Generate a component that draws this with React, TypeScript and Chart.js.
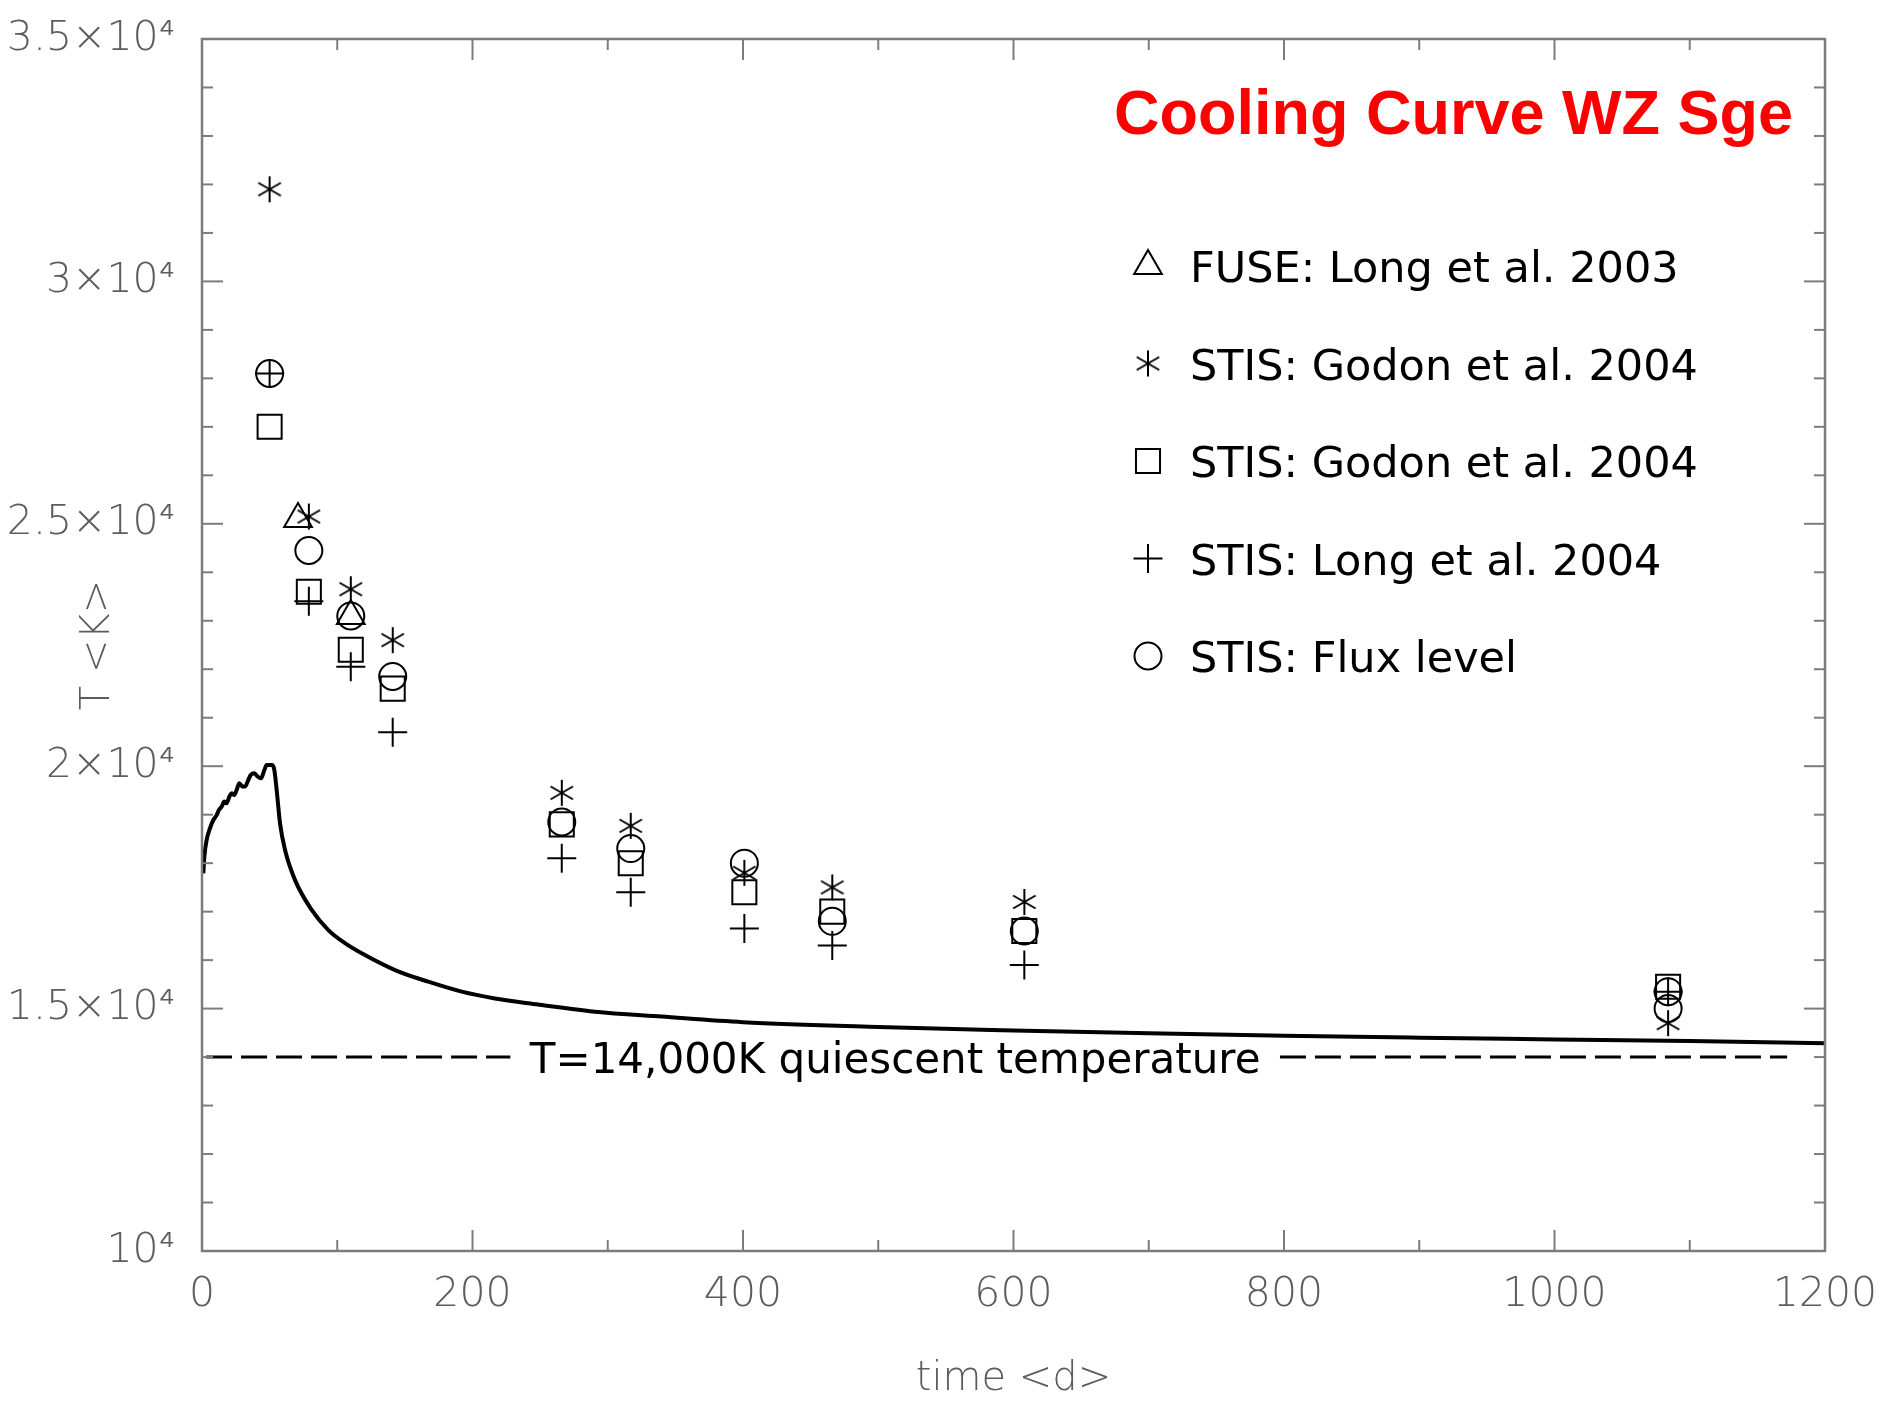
import React, { useEffect, useRef } from 'react';
import { Chart, registerables } from 'chart.js';
import { drawPoint } from 'chart.js/helpers';

Chart.register(...registerables);

// ---------------- data ----------------
const curveDays = [0.99, 1.72, 3.45, 5.9, 8.4, 10.8, 12.6, 14.5, 16.5, 18.2, 20.2, 21.9, 23.9, 25.6, 27.6, 29.8, 31.8, 34.2, 36.0, 38.7, 41.2, 43.6, 46.1, 47.8, 52.0, 53.5, 55.2, 57.7, 61.4, 68.8, 81.1, 93.4, 105.7, 118.1, 142.7, 167.3, 192, 216.6, 241.3, 290.6, 339.9, 400, 500, 600, 700, 800, 900, 1000, 1100, 1200];
const curveTemps = [17790, 18130, 18480, 18720, 18890, 18990, 19100, 19165, 19270, 19235, 19370, 19440, 19405, 19510, 19650, 19580, 19580, 19715, 19820, 19855, 19785, 19750, 19920, 20025, 20025, 19920, 19510, 18820, 18270, 17650, 17035, 16620, 16350, 16140, 15795, 15555, 15350, 15210, 15110, 14935, 14835, 14720, 14620, 14550, 14490, 14440, 14400, 14365, 14330, 14285];

const obsDays = [50, 79, 110, 141, 266, 317, 401, 466, 608, 1084];
const godonStarTemps = [31900, 25150, 23650, 22600, 19450, 18770, 17800, 17500, 17200, 14700];
const godonSquareTemps = [27000, 23600, 22400, 21600, 18800, 18000, 17400, 17000, 16600, 15450];
const longPlusTemps = [28100, 23400, 22050, 20700, 18100, 17400, 16650, 16300, 15900, 15350];
const fluxDays = [50, 79, 110, 141, 266, 317, 401, 466, 608, 1084, 1084];
const fluxCircleTemps = [28100, 24450, 23100, 21850, 18850, 18300, 18000, 16800, 16600, 15350, 15000];
const fuseDays = [71, 110];
const fuseTriangleTemps = [25100, 23100];

const quiescentTemp = 14000;
const quiescentSegments = [[3, 228], [797, 1172]];
const quiescentLabel = 'T=14,000K quiescent temperature';

const chartTitle = 'Cooling Curve WZ Sge';
const legendLabels = [
  'FUSE: Long et al. 2003',
  'STIS: Godon et al. 2004',
  'STIS: Godon et al. 2004',
  'STIS: Long et al. 2004',
  'STIS: Flux level',
];
const xTitle = 'time <d>';
const yTitle = 'T <K>';
const xMin = 0, xMax = 1200, xMajor = 200, xMinor = 100;
const yMin = 10000, yMax = 35000, yMajor = 5000, yMinor = 1000;

// ---------------- helpers ----------------
function makeAsterisk(r: number, lw: number): HTMLCanvasElement {
  const size = Math.ceil(2 * r + 2 * lw);
  const c = document.createElement('canvas');
  c.width = size;
  c.height = size;
  const g = c.getContext('2d')!;
  g.strokeStyle = '#000';
  g.lineWidth = lw;
  const cx = size / 2, cy = size / 2;
  for (const a of [90, 30, -30]) {
    const rad = (a * Math.PI) / 180;
    g.beginPath();
    g.moveTo(cx - r * Math.cos(rad), cy - r * Math.sin(rad));
    g.lineTo(cx + r * Math.cos(rad), cy + r * Math.sin(rad));
    g.stroke();
  }
  return c;
}

const pts = (xs: number[], ys: number[]) => xs.map((x, i) => ({ x, y: ys[i] }));

const TICK_FONT = { family: '"DejaVu Sans", sans-serif', size: 41, weight: 200 as any };
const TITLE_FONT = { family: '"DejaVu Sans", sans-serif', size: 40, weight: 200 as any };
const GRAY = '#5c5c5c';

export default function App() {
  const ref = useRef<HTMLCanvasElement>(null);

  useEffect(() => {
    document.body.style.margin = '0';
    const canvas = ref.current!;
    const asterisk = makeAsterisk(13, 2);

    const markerStyles: any[] = [
      { pointStyle: 'triangle', radius: 16 },
      { pointStyle: asterisk, radius: 13 },
      { pointStyle: 'rect', radius: 17 },
      { pointStyle: 'cross', radius: 14.5 },
      { pointStyle: 'circle', radius: 13.5 },
    ];

    const marker = (label: string, data: any[], idx: number) => ({
      type: 'scatter' as const,
      label,
      data,
      showLine: false,
      pointStyle: markerStyles[idx].pointStyle,
      pointRadius: markerStyles[idx].radius,
      pointHoverRadius: markerStyles[idx].radius,
      pointBorderWidth: 2,
      pointBorderColor: '#000',
      pointBackgroundColor: 'rgba(0,0,0,0)',
      borderColor: '#000',
      backgroundColor: 'rgba(0,0,0,0)',
    });

    const decor = {
      id: 'decor',
      afterDraw(chart: any) {
        const { ctx, chartArea: a, scales } = chart;
        const xs = scales.x, ys = scales.y;
        ctx.save();
        // frame
        ctx.strokeStyle = '#7c7c7c';
        ctx.lineWidth = 2.5;
        ctx.strokeRect(a.left, a.top, a.right - a.left, a.bottom - a.top);
        // ticks (inward, all four sides)
        ctx.lineWidth = 2;
        const seg = (x1: number, y1: number, x2: number, y2: number) => {
          ctx.beginPath();
          ctx.moveTo(x1, y1);
          ctx.lineTo(x2, y2);
          ctx.stroke();
        };
        for (let v = xMin; v <= xMax; v += xMinor) {
          const p = xs.getPixelForValue(v);
          const len = v % xMajor === 0 ? 21 : 11;
          seg(p, a.bottom, p, a.bottom - len);
          seg(p, a.top, p, a.top + len);
        }
        for (let v = yMin; v <= yMax; v += yMinor) {
          const p = ys.getPixelForValue(v);
          const len = v % yMajor === 0 ? 21 : 11;
          seg(a.left, p, a.left + len, p);
          seg(a.right, p, a.right - len, p);
        }
        // title
        ctx.fillStyle = '#ff0000';
        ctx.font = 'bold 63px "Liberation Sans", Arial, sans-serif';
        ctx.textAlign = 'right';
        ctx.textBaseline = 'alphabetic';
        ctx.fillText(chartTitle, a.right - 32, a.top + 95);
        // legend
        ctx.font = '43px "DejaVu Sans", sans-serif';
        ctx.textAlign = 'left';
        ctx.fillStyle = '#000';
        const symX = a.left + 946;
        const textX = a.left + 988;
        for (let i = 0; i < legendLabels.length; i++) {
          const cy = a.top + 227 + i * 97.5;
          ctx.save();
          ctx.strokeStyle = '#000';
          ctx.fillStyle = 'rgba(0,0,0,0)';
          ctx.lineWidth = 2;
          drawPoint(ctx, { pointStyle: markerStyles[i].pointStyle, radius: markerStyles[i].radius, rotation: 0, borderWidth: 2 } as any, symX, cy);
          ctx.restore();
          ctx.fillText(legendLabels[i], textX, cy + 16);
        }
        // quiescent label
        const midDay = (quiescentSegments[0][1] + quiescentSegments[1][0]) / 2;
        ctx.font = '42px "DejaVu Sans", sans-serif';
        ctx.textAlign = 'center';
        ctx.fillText(quiescentLabel, xs.getPixelForValue(midDay), ys.getPixelForValue(quiescentTemp) + 16);
        ctx.restore();
      },
    };

    const chart = new Chart(canvas, {
      type: 'scatter',
      data: {
        datasets: [
          {
            type: 'line' as const,
            label: 'model',
            data: pts(curveDays, curveTemps),
            borderColor: '#000',
            borderWidth: 4,
            pointRadius: 0,
            cubicInterpolationMode: 'monotone',
            fill: false,
          } as any,
          ...quiescentSegments.map((s) => ({
            type: 'line' as const,
            label: 'quiescent',
            data: s.map((d) => ({ x: d, y: quiescentTemp })),
            borderColor: '#000',
            borderWidth: 3,
            borderDash: [26, 9],
            pointRadius: 0,
            fill: false,
          })),
          marker(legendLabels[0], pts(fuseDays, fuseTriangleTemps), 0),
          marker(legendLabels[1], pts(obsDays, godonStarTemps), 1),
          marker(legendLabels[2], pts(obsDays, godonSquareTemps), 2),
          marker(legendLabels[3], pts(obsDays, longPlusTemps), 3),
          marker(legendLabels[4], pts(fluxDays, fluxCircleTemps), 4),
        ],
      },
      options: {
        animation: false,
        responsive: false,
        maintainAspectRatio: false,
        devicePixelRatio: 1,
        events: [],
        layout: { padding: { top: 39, right: 56, left: 0, bottom: 0 } },
        plugins: { legend: { display: false }, tooltip: { enabled: false }, title: { display: false } },
        scales: {
          x: {
            type: 'linear',
            min: xMin,
            max: xMax,
            grid: { display: false, drawTicks: false },
            border: { display: false },
            ticks: { stepSize: xMajor, color: GRAY, font: TICK_FONT, padding: 20, autoSkip: false, maxRotation: 0, callback: (v: any) => String(v) },
            title: { display: true, text: xTitle, color: GRAY, font: TITLE_FONT, padding: { top: 0, bottom: 1 } },
            afterFit: (s: any) => { s.height = 154; s.paddingLeft = 0; s.paddingRight = 0; },
          },
          y: {
            type: 'linear',
            min: yMin,
            max: yMax,
            grid: { display: false, drawTicks: false },
            border: { display: false },
            ticks: {
              stepSize: yMajor,
              color: GRAY,
              font: TICK_FONT,
              padding: 27,
              callback: (v: any) => (v === 10000 ? '10⁴' : `${Number(v) / 10000}×10⁴`),
            },
            title: { display: true, text: yTitle, color: GRAY, font: TITLE_FONT, padding: { top: 75, bottom: 0 } },
            afterFit: (s: any) => { s.width = 202; s.paddingTop = 0; s.paddingBottom = 0; },
          },
        },
      } as any,
      plugins: [decor],
    });
    return () => chart.destroy();
  }, []);

  return (
    <div style={{ width: 1881, height: 1405, overflow: 'hidden' }}>
      <canvas ref={ref} width={1881} height={1405} style={{ display: 'block', width: 1881, height: 1405 }} />
    </div>
  );
}
